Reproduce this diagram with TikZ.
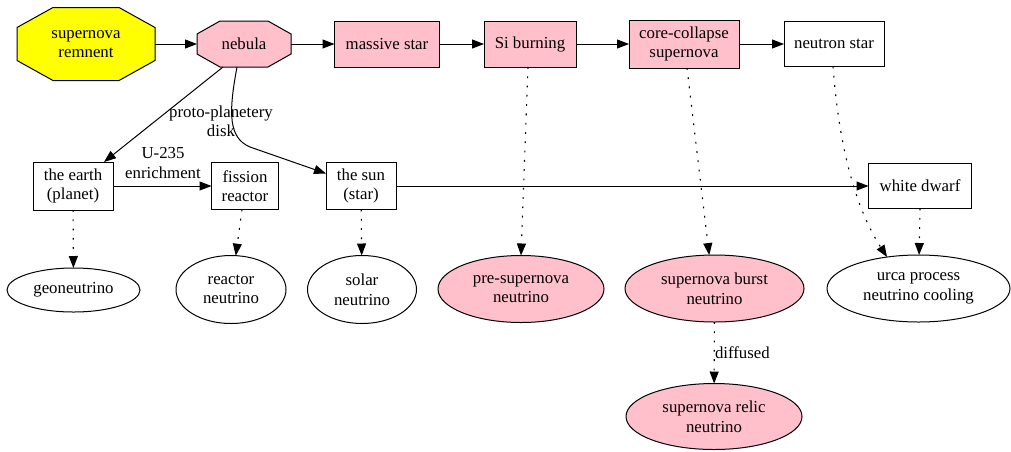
\documentclass[tikz,border=0pt]{standalone}
\usepackage{fontspec}
\setmainfont{Liberation Serif}
\usetikzlibrary{arrows.meta,shapes.geometric,calc}
\pgfdeclarelayer{background}
\pgfsetlayers{background,main}
\definecolor{pinkfill}{HTML}{FFC0CB}
\definecolor{yellowfill}{HTML}{FFFF00}
% octagon outline drawn around a (borderless) node: node, horizontal cut, vertical cut, fill
\newcommand\octframe[4]{%
  \begin{pgfonlayer}{background}
    \path[draw=black,line width=1pt,fill=#4]
      ([xshift=#2]#1.north west) -- ([xshift=-#2]#1.north east)
      -- ([yshift=-#3]#1.north east) -- ([yshift=#3]#1.south east)
      -- ([xshift=-#2]#1.south east) -- ([xshift=#2]#1.south west)
      -- ([yshift=#3]#1.south west) -- ([yshift=-#3]#1.north west) -- cycle;
  \end{pgfonlayer}}
\begin{document}
\begin{tikzpicture}[x=1pt,y=-1pt,
  every node/.style={font=\fontsize{16.8}{19.5}\selectfont,align=center,inner sep=0pt,outer sep=0pt},
  octbox/.style={rectangle,minimum width=#1},
  boxnode/.style={rectangle,draw,line width=1pt,fill=white},
  pinkbox/.style={boxnode,fill=pinkfill},
  ellnode/.style={ellipse,draw,line width=1pt,fill=white},
  pinkell/.style={ellnode,fill=pinkfill},
  arr/.style={line width=1pt,-{Triangle[length=12pt,width=9pt]}},
  dotarr/.style={arr,line width=1.1pt,dash pattern=on 1.8pt off 7.5pt},
  lbl/.style={fill=none}
]
\useasboundingbox (0,0) rectangle (1011,451);

% top row
\node[octbox=138pt,minimum height=73pt] (sr) at (86,44) {supernova\\remnent};
\octframe{sr}{36pt}{20pt}{yellowfill}
\node[octbox=94pt,minimum height=46pt] (neb) at (244,44) {nebula};
\octframe{neb}{23pt}{13pt}{pinkfill}
\node[pinkbox,minimum width=105pt,minimum height=46pt] (ms) at (387,44) {massive star};
\node[pinkbox,minimum width=92pt,minimum height=46pt] (si) at (530,44) {Si burning};
\node[pinkbox,minimum width=110pt,minimum height=48pt] (cc) at (684,44) {core-collapse\\supernova};
\node[boxnode,minimum width=100pt,minimum height=45pt] (ns) at (834,44) {neutron star};

% middle row
\node[boxnode,minimum width=80pt,minimum height=48pt] (earth) at (73,186) {the earth\\(planet)};
\node[boxnode,minimum width=67pt,minimum height=47pt] (fis) at (245,186) {fission\\reactor};
\node[boxnode,minimum width=70pt,minimum height=47pt] (sun) at (361,186) {the sun\\(star)};
\node[boxnode,minimum width=103pt,minimum height=45pt] (wd) at (920,186) {white dwarf};

% neutrino row
\node[ellnode,minimum width=133pt,minimum height=44pt] (geo) at (73.5,290) {geoneutrino};
\node[ellnode,minimum width=110pt,minimum height=68pt] (reac) at (231,289.5) {reactor\\neutrino};
\node[ellnode,minimum width=109pt,minimum height=68pt] (solar) at (362,289.5) {solar\\neutrino};
\node[pinkell,minimum width=166pt,minimum height=67pt] (pre) at (521,289) {pre-supernova\\neutrino};
\node[pinkell,minimum width=179pt,minimum height=67pt] (burst) at (714.5,288.5) {supernova burst\\neutrino};
\node[ellnode,minimum width=183pt,minimum height=67pt] (urca) at (918.5,288.5) {urca process\\neutrino cooling};
\node[pinkell,minimum width=176pt,minimum height=66pt] (relic) at (714,416.5) {supernova relic\\neutrino};

% main chain
\draw[arr] (sr) -- (neb);
\draw[arr] (neb) -- (ms);
\draw[arr] (ms) -- (si);
\draw[arr] (si) -- (cc);
\draw[arr] (cc) -- (ns);

% from the nebula
\draw[arr] ([xshift=-21pt]neb.south) -- ([xshift=31pt]earth.north);
\draw[arr] ([xshift=-7pt]neb.south) .. controls (228,115) and (229,138) .. (250,147)
  -- ([yshift=-11pt]sun.north west);
\node[lbl] (disklbl) at (221,121) {proto-planetery\\disk};

% middle row links
\draw[arr] (earth) -- (fis);
\node[lbl] (u235) at (163,163) {U-235\\enrichment};
\draw[arr] (sun) -- (wd);

% neutrino emission
\draw[dotarr] (earth) -- (geo);
\draw[dotarr] ([xshift=-3pt]fis.south) -- (reac.82);
\draw[dotarr] (sun) -- (solar);
\draw[dotarr] ([xshift=-2pt]si.south) -- (pre.90);
\draw[dotarr] ([xshift=3pt]cc.south) -- (burst.99);
\draw[dotarr] ([xshift=-1pt]ns.south) .. controls (840,160) and (860,215) .. (urca.135);
\draw[dotarr] (wd.south) -- (urca.89);
\draw[dotarr] (burst) -- (relic);
\node[lbl,anchor=west] (difflbl) at (715,353) {diffused};
\end{tikzpicture}
\end{document}
